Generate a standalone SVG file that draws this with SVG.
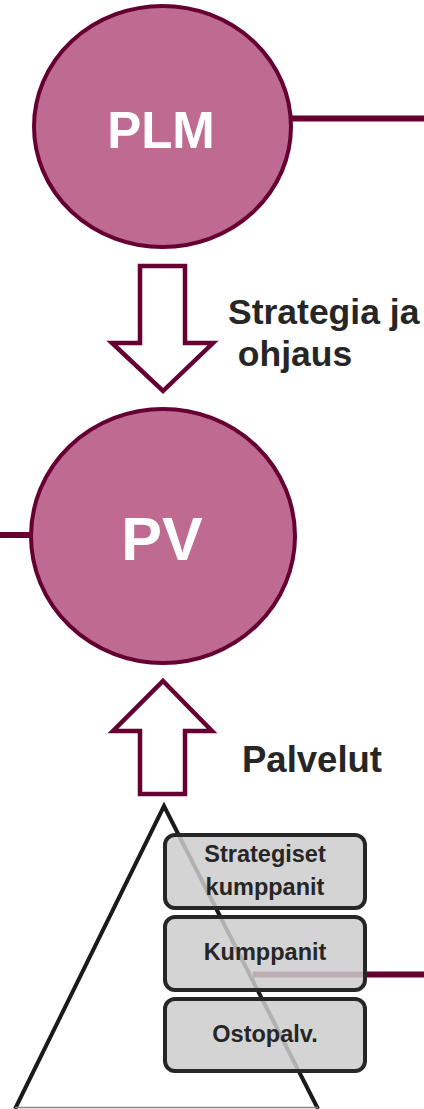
<svg xmlns="http://www.w3.org/2000/svg" width="424" height="1109" viewBox="0 0 424 1109">
<style>
.circ{fill:#BE6A91;stroke:#660033;stroke-width:4}
.ctext{font-family:"Liberation Sans",Arial,sans-serif;font-weight:bold;fill:#ffffff;text-anchor:middle}
.lbl{font-family:"Liberation Sans",Arial,sans-serif;font-weight:bold;fill:#262626}
.arrow{fill:#ffffff;stroke:#660033;stroke-width:4.5;stroke-linejoin:miter}
.conn{stroke:#660033;stroke-width:6;fill:none}
.box{fill:#cccccc;fill-opacity:0.85;stroke:#262626;stroke-width:4}
.btext{font-family:"Liberation Sans",Arial,sans-serif;font-weight:bold;font-size:23.5px;fill:#262626;text-anchor:middle}
.tri{stroke:#1a1a1a;stroke-width:4;fill:none}
</style>
<g id="triangle">
<polyline class="tri" points="15,1109 164,806 318,1109"/>
<line x1="15" y1="1107.5" x2="318" y2="1107.5" stroke="#888888" stroke-width="1.5"/>
</g>
<g id="connectors">
<line class="conn" x1="291" y1="118.5" x2="424" y2="118.5"/>
<line class="conn" x1="0" y1="535" x2="31" y2="535"/>
<line class="conn" x1="253" y1="974.5" x2="424" y2="974.5"/>
</g>
<g id="plm">
<ellipse class="circ" cx="162.5" cy="126.5" rx="128.5" ry="120.5"/>
<text class="ctext" x="161" y="148" font-size="51">PLM</text>
</g>
<g id="arrow-down">
<polygon class="arrow" points="140,266 185,266 185,343 213,343 163,391 112,343 140,343"/>
<text class="lbl" font-size="35.5" x="228" y="324">Strategia ja</text>
<text class="lbl" font-size="35.5" x="228" y="366" xml:space="preserve"> ohjaus</text>
</g>
<g id="pv">
<ellipse class="circ" cx="163" cy="536" rx="132" ry="127"/>
<text class="ctext" x="162" y="560" font-size="61">PV</text>
</g>
<g id="arrow-up">
<polygon class="arrow" points="163,681 212,731 185,731 185,794 140,794 140,731 113,731"/>
<text class="lbl" font-size="36.5" x="242" y="772">Palvelut</text>
</g>
<g id="strategiset">
<rect class="box" x="165" y="835" width="200" height="73" rx="10"/>
<text class="btext" x="265" y="862">Strategiset</text>
<text class="btext" x="265" y="895">kumppanit</text>
</g>
<g id="kumppanit">
<rect class="box" x="165" y="917" width="200" height="73" rx="10"/>
<text class="btext" x="265" y="960">Kumppanit</text>
</g>
<g id="ostopalv">
<rect class="box" x="165" y="999" width="200" height="72" rx="10"/>
<text class="btext" x="265" y="1042">Ostopalv.</text>
</g>
</svg>
